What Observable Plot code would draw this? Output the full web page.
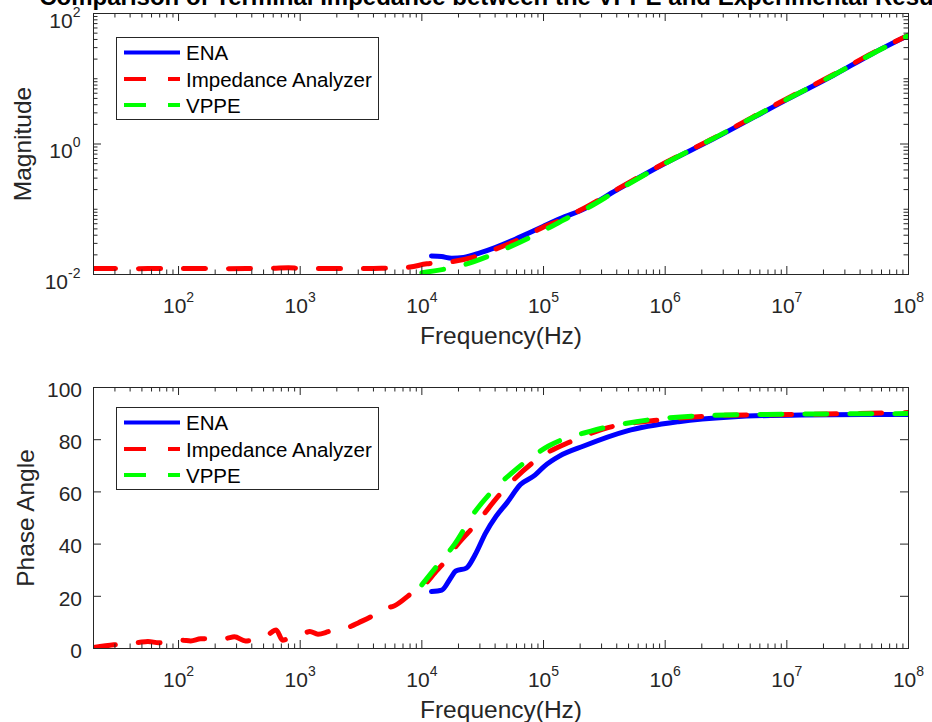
<!DOCTYPE html>
<html><head><meta charset="utf-8">
<script src="https://cdn.jsdelivr.net/npm/d3@7"></script>
<script src="https://cdn.jsdelivr.net/npm/@observablehq/plot@0.6"></script>
<style>
html,body{margin:0;padding:0;background:#fff;}
#fig{position:relative;width:932px;height:722px;overflow:hidden;background:#fff;font-family:"Liberation Sans",Arial,Helvetica,sans-serif;}
#fig > svg{position:absolute;left:0;}
</style></head><body><div id="fig"></div>
<script>
// ---------- data ----------
const titleText = "Comparison of Terminal Impedance between the VPPE and Experimental Results";
const seriesNames = ["ENA", "Impedance Analyzer", "VPPE"];
const seriesColors = ["#0000ff", "#ff0000", "#00ff00"];

const xMajorTicks = [1e2, 1e3, 1e4, 1e5, 1e6, 1e7, 1e8];
const magTicks = [1e-2, 1e0, 1e2];
const phaseTicks = [0, 20, 40, 60, 80, 100];

// Magnitude (upper panel)
const magFreqENA = [1.2e4, 1.45e4, 1.76e4, 2.2e4, 3.0e4, 4.0e4, 5.6e4, 7.5e4, 1e5, 1.5e5, 2e5, 4e5, 1e6, 2.5e6, 1e7, 2.4e7, 5e7, 1e8];
const magENA     = [0.0192, 0.0188, 0.0178, 0.0183, 0.0214, 0.0258, 0.0334, 0.0428, 0.0550, 0.0770, 0.0946, 0.197, 0.506, 1.20, 4.79, 11.2, 24.0, 46.3];

const magFreqIA = [20, 30, 45, 70, 100, 150, 250, 400, 600, 800, 1000, 1500, 2500, 4000, 6000, 8000, 1.1e4, 1.3e4, 1.76e4, 2.57e4, 4e4, 5.9e4, 8.7e4, 1e5, 1.3e5, 2e5, 4e5, 1e6, 2.5e6, 1e7, 2.4e7, 5e7, 1e8];
const magIA     = [0.0124, 0.0124, 0.0123, 0.0124, 0.0124, 0.0124, 0.0123, 0.0124, 0.0125, 0.0127, 0.0124, 0.0124, 0.0124, 0.0124, 0.0125, 0.0130, 0.0146, 0.0150, 0.0157, 0.0181, 0.0244, 0.0327, 0.0468, 0.0535, 0.0650, 0.0965, 0.201, 0.515, 1.23, 4.95, 11.5, 24.5, 46.5];

const magFreqVPPE = [1e4, 1.5e4, 2.3e4, 3.4e4, 5.1e4, 7.5e4, 1.13e5, 1.6e5, 2.2e5, 4e5, 1e6, 2.5e6, 1e7, 2.4e7, 5e7, 1e8];
const magVPPE     = [0.01067, 0.0120, 0.01435, 0.0186, 0.0258, 0.0361, 0.0530, 0.0746, 0.100, 0.192, 0.505, 1.22, 4.85, 11.3, 24.0, 46.0];

// Phase angle (lower panel)
const phFreqENA = [1.2e4, 1.46e4, 1.72e4, 1.9e4, 2.32e4, 2.74e4, 3.34e4, 4.07e4, 5.0e4, 6.46e4, 8.5e4, 1.02e5, 1.35e5, 2.14e5, 4.8e5, 1.29e6, 3.47e6, 1.32e7, 1e8];
const phENA     = [21.8, 22.4, 26.9, 29.7, 30.8, 35.9, 44.2, 50.6, 55.8, 62.8, 66.4, 69.9, 73.7, 77.6, 83.3, 86.9, 88.7, 89.5, 89.7];

const phFreqIA = [20, 29.5, 47, 56, 69, 107, 126, 152, 245, 288, 355, 460, 540, 635, 716, 850, 1020, 1200, 1400, 1750, 2140, 2440, 3020, 4270, 4690, 5900, 8300, 1.08e4, 1.28e4, 1.51e4, 1.95e4, 2.75e4, 4.37e4, 5.69e4, 9.66e4, 1.66e5, 3.39e5, 9.3e5, 3.47e6, 1.32e7, 1e8];
const phIA     = [0.4, 1.4, 2.3, 2.7, 2.2, 3.2, 2.9, 3.7, 3.9, 4.5, 2.9, 4.0, 5.2, 7.1, 3.2, 4.3, 5.2, 6.5, 5.5, 6.6, 7.4, 8.0, 9.9, 13.7, 15.3, 16.3, 21.3, 25.0, 29.0, 32.7, 39.7, 47.4, 59.0, 64.7, 73.7, 79.2, 84.6, 87.6, 89.4, 89.7, 90.4];

const phFreqVPPE = [1e4, 1.32e4, 1.84e4, 2.75e4, 3.57e4, 5.69e4, 1.1e5, 2.45e5, 5.8e5, 1.8e6, 6.8e6, 1e8];
const phVPPE     = [24.4, 31.4, 39.7, 52.6, 59.0, 67.9, 77.6, 83.3, 86.9, 89.1, 89.7, 90.0];

// ---------- helpers ----------
const FONT = '"Liberation Sans", Arial, Helvetica, sans-serif';
const INK = "#262626";
const rows = (freq, vals) => freq.map((f, i) => ({f, v: vals[i]}));

function logTicks(lo, hi, exclude) {
  const out = [];
  for (let e = Math.floor(Math.log10(lo)); e <= Math.ceil(Math.log10(hi)); e++) {
    for (let k = 1; k < 10; k++) {
      const t = +(k * Math.pow(10, e)).toPrecision(6);
      if (t >= lo * 0.999999 && t <= hi * 1.000001 && !exclude.some(m => Math.abs(m - t) / t < 1e-6)) out.push(t);
    }
  }
  return out;
}

function tickRules(xMaj, xMin, yMaj, yMin, H, W) {
  const st = {stroke: INK, strokeWidth: 1};
  const M = 8, m = 4.5;
  const marks = [
    Plot.ruleX(xMaj, {x: d => d, insetTop: H - M, ...st}),
    Plot.ruleX(xMaj, {x: d => d, insetBottom: H - M, ...st}),
    Plot.ruleX(xMin, {x: d => d, insetTop: H - m, ...st}),
    Plot.ruleX(xMin, {x: d => d, insetBottom: H - m, ...st}),
    Plot.ruleY(yMaj, {y: d => d, insetRight: W - M, ...st}),
    Plot.ruleY(yMaj, {y: d => d, insetLeft: W - M, ...st})
  ];
  if (yMin.length) {
    marks.push(Plot.ruleY(yMin, {y: d => d, insetRight: W - m, ...st}));
    marks.push(Plot.ruleY(yMin, {y: d => d, insetLeft: W - m, ...st}));
  }
  return marks;
}

function seriesLines(sets) {
  const dashes = [null, "22,23", "22,23"];
  return sets.map((data, i) => Plot.line(data, {
    x: "f", y: "v", stroke: seriesColors[i], strokeWidth: 5,
    strokeDasharray: dashes[i], strokeLinejoin: "round",
    curve: "monotone-x", clip: true
  }));
}

function superscripts(svg) {
  d3.select(svg).selectAll("text").each(function () {
    const t = this.textContent;
    const i = t.indexOf("^");
    if (i < 0) return;
    const sel = d3.select(this);
    sel.text(null);
    sel.append("tspan").text(t.slice(0, i));
    sel.append("tspan").attr("dy", -11).attr("font-size", 14).text(t.slice(i + 1));
  });
}

const expLabel = d => "10^" + Math.round(Math.log10(d));

const left = 93, right = 24, Wf = 932 - left - right;
const xDomain = [20, 1e8];
const xMinor = logTicks(20, 1e8, xMajorTicks);

// ---------- upper panel: magnitude ----------
const H1 = 360, top1 = 13, bot1 = 274;
const magMinor = logTicks(1e-2, 1e2, magTicks);
const p1 = Plot.plot({
  width: 932, height: H1,
  marginLeft: left, marginRight: right, marginTop: top1, marginBottom: H1 - bot1,
  style: {fontFamily: FONT, background: "transparent", overflow: "visible"},
  x: {type: "log", domain: xDomain, axis: null},
  y: {type: "log", domain: [1e-2, 1e2], axis: null},
  marks: [
    ...seriesLines([rows(magFreqENA, magENA), rows(magFreqIA, magIA), rows(magFreqVPPE, magVPPE)]),
    ...tickRules(xMajorTicks, xMinor, magTicks, magMinor, bot1 - top1, Wf),
    Plot.frame({stroke: INK, strokeWidth: 1}),
    Plot.text(xMajorTicks, {x: d => d, text: expLabel, frameAnchor: "bottom", lineAnchor: "bottom", dy: 38, fontSize: 21, fill: INK}),
    Plot.text(magTicks, {y: d => d, text: expLabel, frameAnchor: "left", textAnchor: "end", lineAnchor: "middle", dx: -13, dy: 7.5, fontSize: 21, fill: INK}),
    Plot.text(["Frequency(Hz)"], {text: d => d, frameAnchor: "bottom", lineAnchor: "bottom", dy: 69.5, fontSize: 24.5, fill: INK}),
    Plot.text(["Magnitude"], {text: d => d, frameAnchor: "left", rotate: -90, textAnchor: "middle", lineAnchor: "bottom", dx: 30 - left, fontSize: 24.5, fill: INK})
  ]
});
superscripts(p1);
p1.style.top = "0px";

// ---------- lower panel: phase ----------
const Y2 = 360, H2 = 362, top2 = 387 - Y2, bot2 = 648 - Y2;
const p2 = Plot.plot({
  width: 932, height: H2,
  marginLeft: left, marginRight: right, marginTop: top2, marginBottom: H2 - bot2,
  style: {fontFamily: FONT, background: "transparent", overflow: "visible"},
  x: {type: "log", domain: xDomain, axis: null},
  y: {type: "linear", domain: [0, 100], axis: null},
  marks: [
    ...seriesLines([rows(phFreqENA, phENA), rows(phFreqIA, phIA), rows(phFreqVPPE, phVPPE)]),
    ...tickRules(xMajorTicks, xMinor, phaseTicks, [], bot2 - top2, Wf),
    Plot.frame({stroke: INK, strokeWidth: 1}),
    Plot.text(xMajorTicks, {x: d => d, text: expLabel, frameAnchor: "bottom", lineAnchor: "bottom", dy: 38, fontSize: 21, fill: INK}),
    Plot.text(phaseTicks, {y: d => d, text: d => String(d), frameAnchor: "left", textAnchor: "end", lineAnchor: "middle", dx: -11.5, dy: 2.6, fontSize: 21, fill: INK}),
    Plot.text(["Frequency(Hz)"], {text: d => d, frameAnchor: "bottom", lineAnchor: "bottom", dy: 69.5, fontSize: 24.5, fill: INK}),
    Plot.text(["Phase Angle"], {text: d => d, frameAnchor: "left", rotate: -90, textAnchor: "middle", lineAnchor: "bottom", dx: 33 - left, fontSize: 24.5, fill: INK})
  ]
});
superscripts(p2);
p2.style.top = Y2 + "px";

const fig = document.getElementById("fig");
fig.appendChild(p1);
fig.appendChild(p2);

// ---------- title and legends overlay ----------
const ov = d3.select(fig).append("svg")
  .attr("width", 932).attr("height", 722)
  .style("top", "0px").style("pointer-events", "none")
  .style("font-family", FONT);

ov.append("text").attr("x", left + Wf / 2).attr("y", 4.5)
  .attr("text-anchor", "middle").attr("font-weight", "bold").attr("font-size", 24)
  .attr("fill", "#000").text(titleText);

function legend(x0, y0) {
  const g = ov.append("g");
  g.append("rect").attr("x", x0 + 0.5).attr("y", y0 + 0.5).attr("width", 262).attr("height", 82)
    .attr("fill", "#fff").attr("stroke", INK).attr("stroke-width", 1);
  const offs = [15.5, 42, 68];
  const dashes = [null, "22,22", "22,22"];
  seriesNames.forEach((name, i) => {
    const y = y0 + offs[i];
    g.append("line").attr("x1", x0 + 8).attr("x2", x0 + 64).attr("y1", y).attr("y2", y)
      .attr("stroke", seriesColors[i]).attr("stroke-width", 4).attr("stroke-dasharray", dashes[i]);
    g.append("text").attr("x", x0 + 70).attr("y", y + 7.5).attr("font-size", 20.5)
      .attr("fill", "#000").text(name);
  });
}
legend(116, 37);
legend(116, 407);
</script></body></html>
